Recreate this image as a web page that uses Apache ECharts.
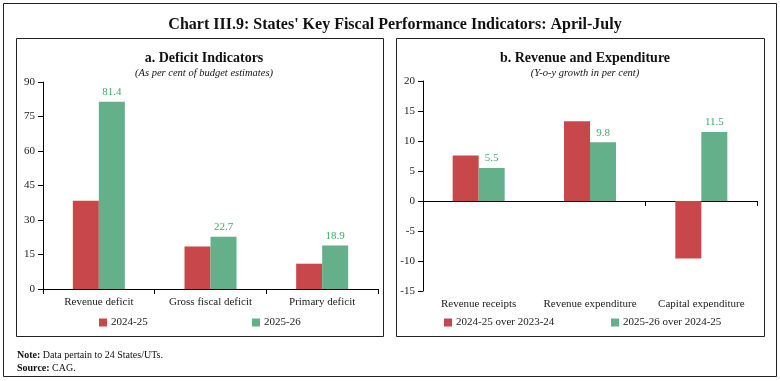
<!DOCTYPE html>
<html><head><meta charset="utf-8">
<script src="https://cdn.jsdelivr.net/npm/echarts@6/dist/echarts.min.js"></script>
<style>html,body{margin:0;padding:0;background:#fff}#c{width:780px;height:381px}</style>
</head><body><div id="c"></div>
<script>
// ---- data ----
const deficitCategories = ['Revenue deficit', 'Gross fiscal deficit', 'Primary deficit'];
const deficitSeriesNames = ['2024-25', '2025-26'];
const deficit2425 = [38.4, 18.5, 11.0];
const deficit2526 = [81.4, 22.7, 18.9];
const deficitAxis = { min: 0, max: 90, interval: 15 };

const growthCategories = ['Revenue receipts', 'Revenue expenditure', 'Capital expenditure'];
const growthSeriesNames = ['2024-25 over 2023-24', '2025-26 over 2024-25'];
const growth2425 = [7.6, 13.3, -9.6];
const growth2526 = [5.5, 9.8, 11.5];
const growthAxis = { min: -15, max: 20, interval: 5 };

// ---- styles ----
const SERIF = 'Liberation Serif';
const RED = '#C8474B';
const GREEN = '#63B08B';
const LABEL_GREEN = '#3FAE68';
const TXT = '#222';

const chart = echarts.init(document.getElementById('c'), null, { renderer: 'canvas' });

function yAxis(gridIndex, a) {
  return {
    type: 'value', gridIndex, min: a.min, max: a.max, interval: a.interval,
    axisLine: { show: true, lineStyle: { color: '#000', width: 1 } },
    axisTick: { show: true, length: 5, lineStyle: { color: '#000' } },
    axisLabel: { fontFamily: SERIF, fontSize: 11, color: TXT, margin: 8 },
    splitLine: { show: false }
  };
}

function legend(name, left) {
  return { data: [name], left, top: 317, padding: 0, icon: 'rect', itemWidth: 8, itemHeight: 8, itemGap: 0,
    textStyle: { fontFamily: SERIF, fontSize: 11, color: TXT, padding: [0, 0, 0, -1] } };
}

const option = {
  animation: false,
  backgroundColor: '#fff',
  title: [
    { text: "Chart III.9: States' Key Fiscal Performance Indicators: April-July", left: 390, top: 12, textAlign: 'center',
      textStyle: { fontFamily: SERIF, fontSize: 16, fontWeight: 'bold', color: '#111' } },
    { text: 'a. Deficit Indicators', subtext: '(As per cent of budget estimates)', left: 199, top: 46, textAlign: 'center', itemGap: 3,
      textStyle: { fontFamily: SERIF, fontSize: 14, fontWeight: 'bold', color: '#111' },
      subtextStyle: { fontFamily: SERIF, fontSize: 10.5, fontStyle: 'italic', color: '#111' } },
    { text: 'b. Revenue and Expenditure', subtext: '(Y-o-y growth in per cent)', left: 580, top: 46, textAlign: 'center', itemGap: 3,
      textStyle: { fontFamily: SERIF, fontSize: 14, fontWeight: 'bold', color: '#111' },
      subtextStyle: { fontFamily: SERIF, fontSize: 10.5, fontStyle: 'italic', color: '#111' } },
    { text: '{b|Note:} Data pertain to 24 States/UTs.\n{b|Source:} CAG.', left: 12, top: 344,
      textStyle: { fontFamily: SERIF, fontSize: 10, fontWeight: 'normal', color: '#111', lineHeight: 13,
        rich: { b: { fontFamily: SERIF, fontSize: 10, fontWeight: 'bold', color: '#111' } } } }
  ],
  graphic: [
    { type: 'rect', shape: { x: 3.5, y: 3.5, width: 773, height: 373 }, style: { fill: 'none', stroke: '#222', lineWidth: 1 }, silent: true },
    { type: 'rect', shape: { x: 16.5, y: 38.5, width: 367, height: 298 }, style: { fill: 'none', stroke: '#222', lineWidth: 1 }, silent: true },
    { type: 'rect', shape: { x: 396.5, y: 38.5, width: 368, height: 298 }, style: { fill: 'none', stroke: '#222', lineWidth: 1 }, silent: true }
  ],
  legend: [
    legend(deficitSeriesNames[0], 99),
    legend(deficitSeriesNames[1], 252),
    legend(growthSeriesNames[0], 444),
    legend(growthSeriesNames[1], 611)
  ],
  grid: [
    { left: 43, top: 82, width: 335, height: 207, containLabel: false },
    { left: 423, top: 81, width: 334, height: 210, containLabel: false }
  ],
  xAxis: [
    { type: 'category', gridIndex: 0, data: deficitCategories, boundaryGap: true,
      axisLine: { lineStyle: { color: '#000' } },
      axisTick: { show: true, length: 5, lineStyle: { color: '#000' } },
      axisLabel: { interval: 0, hideOverlap: false, fontFamily: SERIF, fontSize: 11, color: TXT, margin: 8 } },
    { type: 'category', gridIndex: 1, data: growthCategories, boundaryGap: true,
      axisLine: { onZero: true, lineStyle: { color: '#000' } },
      axisTick: { show: true, length: 5, lineStyle: { color: '#000' } },
      axisLabel: { show: false } },
    { type: 'category', gridIndex: 1, data: growthCategories, boundaryGap: true, position: 'bottom',
      axisLine: { show: false, onZero: false }, axisTick: { show: false },
      axisLabel: { interval: 0, hideOverlap: false, fontFamily: SERIF, fontSize: 11, color: TXT, margin: 8 } }
  ],
  yAxis: [yAxis(0, deficitAxis), yAxis(1, growthAxis)],
  series: [
    { name: deficitSeriesNames[0], type: 'bar', xAxisIndex: 0, yAxisIndex: 0, data: deficit2425,
      barWidth: 26, barGap: '0%', itemStyle: { color: RED } },
    { name: deficitSeriesNames[1], type: 'bar', xAxisIndex: 0, yAxisIndex: 0, data: deficit2526,
      barWidth: 26, barGap: '0%', itemStyle: { color: GREEN },
      label: { show: true, position: 'top', distance: 4, fontFamily: SERIF, fontSize: 11, color: LABEL_GREEN } },
    { name: growthSeriesNames[0], type: 'bar', xAxisIndex: 1, yAxisIndex: 1, data: growth2425,
      barWidth: 26, barGap: '0%', itemStyle: { color: RED } },
    { name: growthSeriesNames[1], type: 'bar', xAxisIndex: 1, yAxisIndex: 1, data: growth2526,
      barWidth: 26, barGap: '0%', itemStyle: { color: GREEN },
      label: { show: true, position: 'top', distance: 4, fontFamily: SERIF, fontSize: 11, color: LABEL_GREEN } }
  ]
};
chart.setOption(option);
</script>
</body></html>
